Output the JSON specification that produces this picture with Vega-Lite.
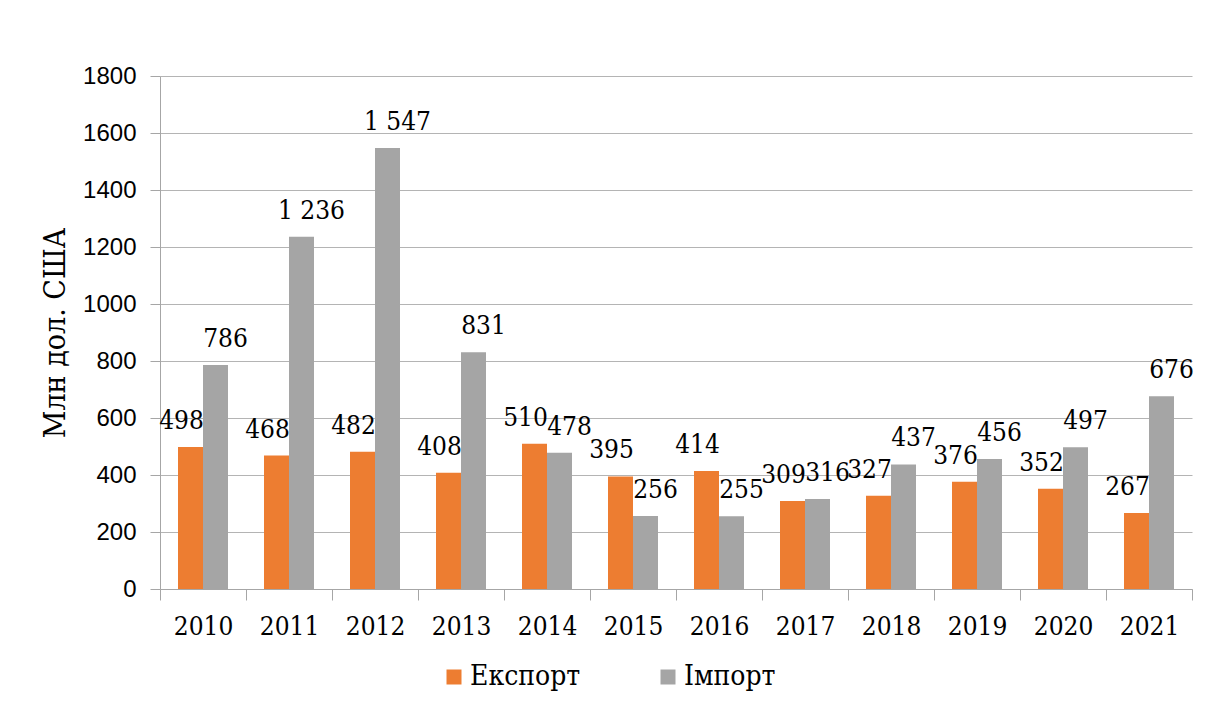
{
  "$schema": "https://vega.github.io/schema/vega-lite/v6.json",
  "width": 1032,
  "height": 513,
  "autosize": {"type": "none"},
  "padding": {"left": 160, "top": 76, "right": 40, "bottom": 126},
  "background": "white",
  "data": {
    "values": [
      {"year": "2010", "type": "Експорт", "value": 498},
      {"year": "2010", "type": "Імпорт", "value": 786},
      {"year": "2011", "type": "Експорт", "value": 468},
      {"year": "2011", "type": "Імпорт", "value": 1236},
      {"year": "2012", "type": "Експорт", "value": 482},
      {"year": "2012", "type": "Імпорт", "value": 1547},
      {"year": "2013", "type": "Експорт", "value": 408},
      {"year": "2013", "type": "Імпорт", "value": 831},
      {"year": "2014", "type": "Експорт", "value": 510},
      {"year": "2014", "type": "Імпорт", "value": 478},
      {"year": "2015", "type": "Експорт", "value": 395},
      {"year": "2015", "type": "Імпорт", "value": 256},
      {"year": "2016", "type": "Експорт", "value": 414},
      {"year": "2016", "type": "Імпорт", "value": 255},
      {"year": "2017", "type": "Експорт", "value": 309},
      {"year": "2017", "type": "Імпорт", "value": 316},
      {"year": "2018", "type": "Експорт", "value": 327},
      {"year": "2018", "type": "Імпорт", "value": 437},
      {"year": "2019", "type": "Експорт", "value": 376},
      {"year": "2019", "type": "Імпорт", "value": 456},
      {"year": "2020", "type": "Експорт", "value": 352},
      {"year": "2020", "type": "Імпорт", "value": 497},
      {"year": "2021", "type": "Експорт", "value": 267},
      {"year": "2021", "type": "Імпорт", "value": 676}
    ]
  },
  "transform": [
    {"calculate": "replace(format(datum.value, ','), ',', ' ')", "as": "label"}
  ],
  "encoding": {
    "x": {
      "field": "year",
      "type": "nominal",
      "scale": {"paddingInner": 0, "paddingOuter": 0},
      "axis": {
        "title": null,
        "labelAngle": 0,
        "tickBand": "extent",
        "tickSize": 11,
        "tickColor": "#A6A6A6",
        "domainColor": "#A6A6A6",
        "labelFont": "DejaVu Serif Condensed, DejaVu Serif",
        "labelFontSize": 26,
        "labelColor": "#000000",
        "labelPadding": 13
      }
    },
    "xOffset": {
      "field": "type",
      "type": "nominal",
      "scale": {"domain": ["Експорт", "Імпорт"], "paddingInner": 0, "paddingOuter": 0.72}
    },
    "y": {
      "field": "value",
      "type": "quantitative",
      "scale": {"domain": [0, 1800], "nice": false},
      "axis": {
        "title": "Млн дол. США",
        "values": [0, 200, 400, 600, 800, 1000, 1200, 1400, 1600, 1800],
        "format": "d",
        "grid": true,
        "gridColor": "#B4B4B4",
        "gridWidth": 1,
        "tickSize": 10,
        "tickColor": "#A6A6A6",
        "domainColor": "#A6A6A6",
        "labelFont": "Liberation Sans",
        "labelFontSize": 24,
        "labelColor": "#000000",
        "labelPadding": 14,
        "titleFont": "DejaVu Serif Condensed, DejaVu Serif",
        "titleFontSize": 30,
        "titleFontWeight": "normal",
        "titleColor": "#000000",
        "titlePadding": 12
      }
    }
  },
  "layer": [
    {
      "mark": {"type": "bar"},
      "encoding": {
        "color": {
          "field": "type",
          "type": "nominal",
          "scale": {"domain": ["Експорт", "Імпорт"], "range": ["#ED7D31", "#A5A5A5"]},
          "legend": {
            "title": null,
            "orient": "none",
            "direction": "horizontal",
            "legendX": 280,
            "legendY": 587,
            "symbolType": "square",
            "symbolSize": 225,
            "symbolStrokeWidth": 0,
            "labelFont": "DejaVu Serif Condensed, DejaVu Serif",
            "labelFontSize": 28,
            "labelColor": "#000000",
            "labelOffset": 2,
            "columnPadding": 73,
            "padding": 0
          }
        }
      }
    },
    {
      "transform": [{"filter": "datum.type === 'Експорт'"}],
      "mark": {
        "type": "text",
        "baseline": "alphabetic",
        "dy": -18,
        "dx": -9,
        "font": "DejaVu Serif Condensed, DejaVu Serif",
        "fontSize": 26,
        "color": "#000000"
      },
      "encoding": {
        "text": {"field": "label", "type": "nominal"}
      }
    },
    {
      "transform": [{"filter": "datum.type === 'Імпорт'"}],
      "mark": {
        "type": "text",
        "baseline": "alphabetic",
        "dy": -18,
        "dx": 10,
        "font": "DejaVu Serif Condensed, DejaVu Serif",
        "fontSize": 26,
        "color": "#000000"
      },
      "encoding": {
        "text": {"field": "label", "type": "nominal"}
      }
    }
  ],
  "config": {
    "view": {"stroke": null},
    "axis": {"domainWidth": 1, "tickWidth": 1}
  }
}
